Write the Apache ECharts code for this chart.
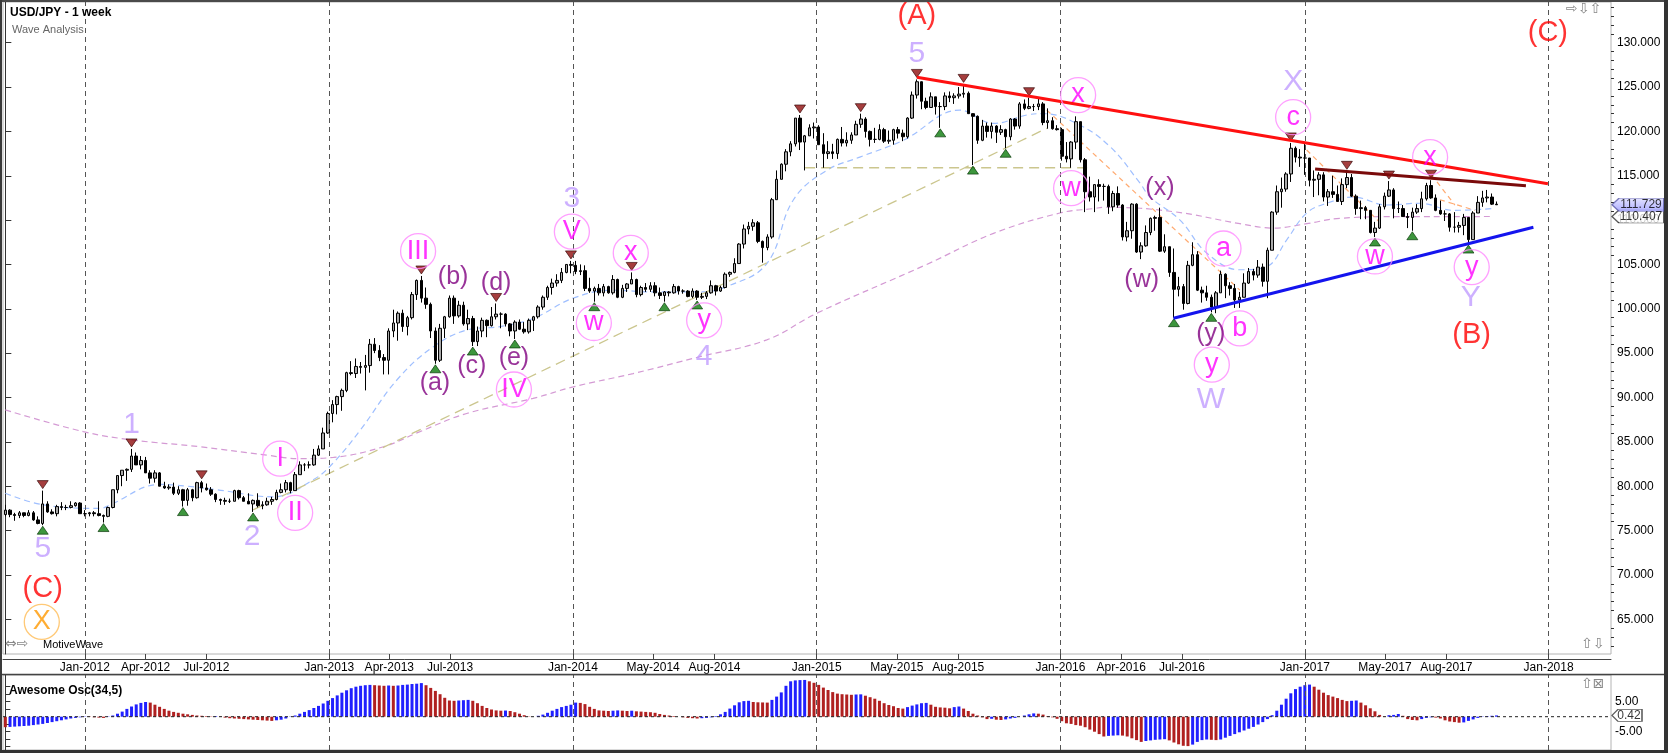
<!DOCTYPE html>
<html>
<head>
<meta charset="utf-8">
<title>USD/JPY - 1 week</title>
<script src="https://cdn.jsdelivr.net/npm/echarts@6.0.0/dist/echarts.min.js"></script>
<style>
html,body{margin:0;padding:0;background:#fff;overflow:hidden}
#chart{width:1668px;height:753px}
</style>
</head>
<body>
<div id="chart"></div>
<script>
// ================= DATA =================
const START_WEEK = '2011-09-04';   // first weekly bar
const AXIS_WEEKS = 344;            // weeks spanned by the time axis

// weekly candles: [open, close, low, high]
const candles2011 = [
[76.8,77.3,76.6,77.9],[77.3,76.8,76.5,77.4],[76.8,76.7,76.1,77.0],[76.7,77.0,76.4,77.2],
[77.0,76.7,76.5,77.0],[76.7,77.0,76.6,77.3],[77.0,76.2,76.1,77.2],[76.2,75.8,75.7,76.6],
[75.8,78.0,75.6,79.5],[78.0,77.1,77.0,78.3],[77.1,76.9,76.8,77.4],[76.9,77.7,76.6,77.9],
[77.7,77.6,77.3,78.2],[77.6,77.6,77.3,77.9],[77.6,77.8,77.5,78.3],[77.8,78.1,77.7,78.2],
[78.1,76.9,76.9,78.2]];
const candles2012 = [
[76.9,76.9,76.6,77.3],[76.9,77.0,76.6,77.1],[77.0,76.9,76.6,77.2],[76.9,76.7,76.6,78.3],
[76.7,76.6,75.9,76.8],[76.6,77.6,76.5,77.7],[77.6,79.6,77.5,79.6],[79.6,81.2,79.2,81.2],
[81.2,81.8,80.0,81.8],[81.8,81.9,80.6,82.0],[81.9,83.4,81.6,84.2],[83.4,82.4,82.4,83.8],
[82.4,82.9,81.9,83.4],[82.9,81.5,81.5,83.3],[81.5,80.9,80.3,81.8],[80.9,81.5,80.4,81.8],
[81.5,80.0,80.0,81.6],[80.0,79.8,79.7,80.5],[79.8,79.9,79.6,80.2],[79.9,79.2,79.0,80.4],
[79.2,79.6,79.0,80.0],[79.6,78.4,77.7,79.7],[78.4,79.6,77.8,79.8],[79.6,78.7,78.3,79.7],
[78.7,80.4,78.6,80.5],[80.4,79.8,79.3,80.6],[79.8,79.6,79.5,80.3],[79.6,79.1,78.9,79.9],
[79.1,78.5,78.2,79.2],[78.5,78.4,77.9,78.6],[78.4,78.3,77.9,78.7],[78.3,78.3,78.1,78.6],
[78.3,79.5,78.3,79.6],[79.5,78.7,78.5,79.6],[78.7,78.3,78.3,78.9],[78.3,78.0,78.0,79.2],
[78.0,78.4,77.1,78.5],[78.4,77.8,77.6,79.2],[77.8,77.9,77.4,78.3],[77.9,78.3,77.8,78.7],
[78.3,78.5,77.9,78.8],[78.5,79.3,78.4,79.6],[79.3,79.6,79.2,80.3],[79.6,80.4,79.3,80.7],
[80.4,79.5,79.2,80.5],[79.5,81.3,79.5,81.6],[81.3,82.4,81.3,82.8],[82.4,82.4,81.7,82.6],
[82.4,82.4,82.0,82.8],[82.4,83.5,82.3,84.2],[83.5,84.2,83.4,84.6],[84.2,86.0,84.2,86.6]];
const candles2013 = [
[86.0,88.2,85.9,88.4],[88.2,89.2,87.2,89.7],[89.2,90.1,88.1,90.2],[90.1,90.8,88.5,91.0],
[90.8,92.8,90.6,92.9],[92.8,92.7,92.5,94.1],[92.7,93.5,92.2,94.4],[93.5,93.4,92.7,94.0],
[93.4,93.6,90.8,94.8],[93.6,96.0,92.8,96.6],[96.0,95.3,95.0,96.7],[95.3,94.5,94.1,95.9],
[94.5,94.2,92.6,94.9],[94.2,97.5,92.6,97.8],[97.5,98.4,96.8,99.9],[98.4,99.5,96.4,99.7],
[99.5,98.0,97.4,99.9],[98.0,99.0,97.0,99.2],[99.0,101.6,98.8,101.9],[101.6,103.2,101.0,103.3],
[103.2,101.2,100.7,103.7],[101.2,100.5,100.0,102.4],[100.5,97.5,96.7,100.7],[97.5,94.2,93.8,97.9],
[94.2,97.8,94.0,98.3],[97.8,99.1,96.7,99.2],[99.1,101.2,99.0,101.5],[101.2,99.2,98.3,101.5],
[99.2,100.4,99.0,100.9],[100.4,98.3,98.1,100.8],[98.3,98.9,97.6,99.9],[98.9,96.3,95.8,99.2],
[96.3,97.5,95.8,98.0],[97.5,98.7,96.8,99.0],[98.7,98.1,96.8,98.8],[98.1,99.1,98.0,100.2],
[99.1,99.4,98.8,100.6],[99.4,99.4,97.8,99.6],[99.4,98.3,98.0,99.5],[98.3,97.5,96.9,98.4],
[97.5,98.5,96.6,98.7],[98.5,97.7,97.6,98.8],[97.7,97.4,97.2,98.5],[97.4,98.7,97.2,98.9],
[98.7,99.1,97.5,99.2],[99.1,100.2,98.9,100.4],[100.2,101.3,99.9,101.5],[101.3,102.4,101.0,102.6],
[102.4,102.9,101.6,103.4],[102.9,103.2,102.5,103.9],[103.2,104.1,102.9,104.6],[104.1,105.0,104.0,105.0]];
const candles2014 = [
[105.0,104.9,104.0,105.4],[104.9,104.2,103.9,105.4],[104.2,104.3,103.8,105.0],[104.3,102.3,102.0,104.9],
[102.3,102.0,101.8,103.5],[102.0,102.3,100.8,102.5],[102.3,101.8,101.5,102.8],[101.8,102.5,101.4,102.8],
[102.5,101.8,101.7,102.6],[101.8,103.3,101.6,103.8],[103.3,101.3,101.2,103.4],[101.3,102.3,101.2,102.7],
[102.3,102.8,101.9,102.9],[102.8,103.3,102.8,104.1],[103.3,101.6,101.3,103.4],[101.6,102.4,101.4,102.6],
[102.4,102.2,101.9,102.9],[102.2,102.6,101.9,103.0],[102.6,101.8,101.4,103.0],[101.8,101.5,101.1,102.4],
[101.5,101.9,100.8,102.0],[101.9,101.8,101.4,102.0],[101.8,102.5,101.7,102.8],[102.5,102.0,101.6,102.6],
[102.0,102.0,101.7,102.2],[102.0,101.4,101.3,102.1],[101.4,102.0,101.2,102.3],[102.0,101.3,101.0,102.1],
[101.3,101.4,101.1,101.8],[101.4,101.8,101.1,102.0],[101.8,102.6,101.7,103.2],[102.6,102.0,101.5,102.7],
[102.0,102.4,101.9,102.6],[102.4,103.9,102.3,104.1],[103.9,104.1,103.6,104.2],[104.1,105.1,104.0,105.7],
[105.1,107.3,105.1,107.4],[107.3,109.0,106.8,109.5],[109.0,109.3,108.4,109.8],[109.3,109.7,108.8,110.1],
[109.7,107.6,107.4,109.9],[107.6,106.9,105.2,107.7],[106.9,108.1,106.6,108.4],[108.1,112.3,107.9,112.5],
[112.3,114.6,112.3,115.6],[114.6,116.3,114.6,116.4],[116.3,117.7,115.5,118.0],[117.7,118.6,117.2,118.9],
[118.6,121.5,118.3,121.5],[121.5,118.8,117.9,121.85],[118.8,119.5,115.6,119.6],[119.5,120.4,119.5,120.8]];
const candles2015 = [
[120.4,120.5,119.2,121.0],[120.5,118.5,118.5,120.7],[118.5,117.5,115.9,119.8],[117.5,117.7,116.9,118.9],
[117.7,117.5,116.9,118.6],[117.5,119.1,116.9,119.2],[119.1,118.7,118.3,120.5],[118.7,119.0,118.3,119.9],
[119.0,119.6,118.6,119.9],[119.6,120.8,119.6,121.2],[120.8,121.4,120.4,122.0],[121.4,120.0,119.3,121.6],
[120.0,119.1,118.3,120.1],[119.1,119.1,118.7,120.4],[119.1,120.2,119.0,120.8],[120.2,118.9,118.7,120.4],
[118.9,119.0,118.6,120.1],[119.0,120.2,118.5,120.3],[120.2,119.8,119.2,120.5],[119.8,119.4,118.9,120.2],
[119.4,121.5,119.2,121.6],[121.5,124.1,121.4,124.5],[124.1,125.6,123.7,125.86],[125.6,123.4,122.5,125.0],
[123.4,122.7,122.5,123.8],[122.7,123.9,122.7,124.4],[123.9,122.8,121.9,123.9],[122.8,122.8,120.4,123.3],
[122.8,124.0,122.4,124.4],[124.0,123.8,123.3,124.5],[123.8,124.0,123.1,124.3],[124.0,124.2,123.7,125.0],
[124.2,124.3,123.8,125.3],[124.3,122.0,122.0,124.5],[122.0,121.7,116.2,121.8],[121.7,119.0,118.6,121.8],
[119.0,120.6,118.9,121.3],[120.6,120.0,119.3,121.0],[120.0,120.6,119.2,121.0],[120.6,119.9,118.7,120.7],
[119.9,120.2,119.6,120.7],[120.2,119.4,118.1,120.3],[119.4,121.4,119.0,121.5],[121.4,120.6,120.2,121.5],
[120.6,123.1,120.3,123.3],[123.1,122.6,122.4,123.6],[122.6,122.8,122.5,123.8],[122.8,122.8,122.3,123.1],
[122.8,123.1,122.4,123.7],[123.1,121.0,120.7,123.3],[121.0,121.2,120.3,122.6],[121.2,120.3,120.2,121.6]];
const candles2016 = [
[120.3,120.2,120.1,120.7],[120.2,117.2,116.7,120.4],[117.2,116.9,116.5,118.8],[116.9,118.8,115.9,118.9],
[118.8,121.1,118.0,121.7],[121.1,116.8,116.5,121.1],[116.8,113.2,110.9,117.0],[113.2,112.6,112.1,114.9],
[112.6,114.0,110.9,114.0],[114.0,113.8,112.1,114.6],[113.8,113.8,112.2,114.1],[113.8,111.5,110.7,114.0],
[111.5,113.0,111.0,113.3],[113.0,111.7,111.4,113.8],[111.7,108.1,107.7,111.8],[108.1,108.8,107.6,109.8],
[108.8,111.8,107.9,111.9],[111.8,106.4,106.3,111.9],[106.4,107.1,105.6,107.5],[107.1,108.6,107.0,109.4],
[108.6,110.2,108.3,110.3],[110.2,110.3,108.8,110.5],[110.3,106.5,106.4,111.4],[106.5,107.0,106.3,108.4],
[107.0,104.1,103.6,107.0],[104.1,102.2,99.0,106.8],[102.2,102.5,101.4,103.6],[102.5,100.6,99.9,102.8],
[100.6,104.9,100.5,105.4],[104.9,106.1,104.8,107.5],[106.1,102.1,102.0,106.5],[102.1,101.8,100.7,102.5],
[101.8,101.3,100.9,102.6],[101.3,100.2,99.6,101.6],[100.2,101.8,99.5,102.0],[101.8,103.9,101.8,104.3],
[103.9,102.6,101.2,104.0],[102.6,102.3,101.5,103.0],[102.3,101.0,100.1,102.8],[101.0,101.3,100.1,101.9],
[101.3,102.9,101.3,104.0],[102.9,104.2,102.8,104.6],[104.2,103.8,103.2,104.5],[103.8,104.7,103.5,105.5],
[104.7,103.1,102.5,105.1],[103.1,106.6,101.2,106.9],[106.6,110.9,106.6,111.0],[110.9,113.2,110.6,113.9],
[113.2,113.5,111.4,114.8],[113.5,115.2,113.2,115.4],[115.2,118.1,114.3,118.7],[118.1,117.1,116.5,118.3]];
const candles2017 = [
[117.1,117.0,116.0,118.0],[117.0,117.0,115.1,118.6],[117.0,114.5,113.8,116.9],[114.5,114.6,112.6,115.6],
[114.6,115.1,112.8,115.4],[115.1,112.6,112.1,115.4],[112.6,113.2,111.6,113.5],[113.2,112.9,112.5,115.0],
[112.9,112.1,112.1,113.9],[112.1,114.0,111.7,114.7],[114.0,114.8,113.6,115.5],[114.8,112.7,112.6,115.2],
[112.7,111.3,110.6,112.9],[111.3,111.4,110.1,112.2],[111.4,111.1,110.1,111.6],[111.1,108.6,108.5,111.1],
[108.6,109.1,108.1,109.8],[109.1,111.5,109.0,111.8],[111.5,112.7,111.2,113.1],[112.7,113.4,112.6,114.4],
[113.4,111.3,110.2,113.6],[111.3,111.3,110.8,112.1],[111.3,110.4,110.4,111.7],[110.4,110.3,109.1,110.8],
[110.3,110.9,108.8,111.4],[110.9,111.3,110.7,111.8],[111.3,112.4,110.9,113.2],[112.4,113.9,112.2,114.2],
[113.9,112.5,112.4,114.5],[112.5,111.1,111.0,112.9],[111.1,110.7,110.6,112.2],[110.7,110.7,109.9,111.1],
[110.7,109.2,108.7,110.8],[109.2,109.2,108.6,110.9],[109.2,109.4,108.6,109.8],[109.4,110.3,108.3,110.7],
[110.3,107.8,107.3,110.3],[107.8,110.8,107.8,111.0],[110.8,112.0,110.8,112.7],[112.0,112.5,111.5,113.3],
[112.5,112.6,112.0,113.4],[112.6,111.8,111.7,113.0],[111.8,111.73,111.7,112.1]];

// swing markers (bar numbers)
const swingHighs = [8,27,42,89,105,121,134,170,183,195,205,219,275,287,296,305];
const swingLows  = [8,21,38,53,92,100,109,126,141,148,200,207,214,250,258,293,301,313];

// moving averages: [week, value]
const maFast = [[0,79.2],[8.1,77.9],[20.3,77.5],[22.4,77.9],[33.1,80.2],[38.9,80.0],[45.3,79.6],[57.3,78.8],
[65.8,80.7],[70.1,82.6],[75.9,86.3],[83.8,92.0],[91.5,95.7],[98.7,97.6],[105.8,98.0],[112.9,98.9],
[121.5,101.2],[130.1,102.1],[138.6,101.9],[148.6,101.9],[154.3,102.5],[162.9,105.1],[168.6,112.3],
[175.7,115.6],[182.8,117.1],[192.1,119.0],[204.2,122.4],[211.4,120.9],[218.5,121.85],[222.0,122.0],
[229.2,120.9],[236.3,118.3],[242.7,114.2],[244.9,112.6],[251.3,110.0],[257.0,106.3],[264.1,104.4],
[269.8,104.75],[274.1,107.75],[278.4,110.8],[282.7,111.9],[288.4,112.6],[295.5,111.7],[302.6,111.9],
[309.8,111.1],[318.3,111.3]];
const maSlow = [[0,88.6],[16.7,86.15],[27.4,85.2],[41.6,84.45],[55.9,83.5],[63.0,83.1],[70.2,83.25],
[80.9,84.45],[88.7,86.15],[98.7,88.2],[112.9,89.9],[121.5,91.2],[134.3,92.7],[148.6,94.6],[162.9,96.5],
[173.6,99.5],[197.1,105.0],[211.4,108.5],[225.6,110.8],[232.8,111.3],[235.6,111.45],[249.9,110.95],
[264.1,109.6],[271.3,109.1],[278.4,109.6],[285.5,110.2],[299.8,110.4],[311.2,110.4],[318.3,110.407]];

// trend lines [[week, price],[week, price]]
const resistanceLine = [[195.0,126.1],[330.0,114.1]];
const upperTriangle  = [[280.2,115.76],[325.3,113.88]];
const supportLine    = [[249.9,98.93],[326.9,109.19]];
const oliveDiagonal  = [[53.0,77.32],[222.8,120.35]];
const oliveFlat      = [[171.1,115.9],[231.7,115.9]];
const orangeSegs = [
 [[222.8,122.4],[264.1,102.1]],
 [[278.4,117.9],[294.5,109.5]],
 [[305.1,115.1],[310.1,111.7]],
 [[306.9,112.3],[314.4,111.1]]];

// wave labels [week, price, text]
const lavenderLabels = [[8.0,73.0,'5'],[27.0,86.9,'1'],[52.8,74.3,'2'],[121.2,112.4,'3'],[149.5,94.6,'4'],
 [195.0,128.8,'5'],[257.9,89.7,'W'],[275.5,125.6,'X'],[313.5,101.2,'Y']];
const redLabels = [[8.0,68.4,'(C)'],[195.0,133.0,'(A)'],[313.7,97.05,'(B)'],[330.0,131.1,'(C)']];
const purpleLabels = [[91.9,91.6,'(a)'],[95.8,103.6,'(b)'],[99.8,93.5,'(c)'],[105.0,102.9,'(d)'],
 [108.8,94.4,'(e)'],[243.1,103.2,'(w)'],[247.0,113.6,'(x)'],[257.9,97.2,'(y)']];
const circledLabels = [[58.8,83.1,'I'],[62.0,77.0,'II'],[88.3,106.5,'III'],[108.8,90.9,'IV'],
 [121.2,108.7,'V'],[125.9,98.4,'w'],[133.8,106.3,'x'],[149.5,98.7,'y'],[229.5,124.1,'x'],
 [228.0,113.6,'w'],[260.6,106.8,'a'],[264.1,97.8,'b'],[258.1,93.7,'y'],[275.5,121.6,'c'],
 [293.0,105.9,'w'],[304.8,117.1,'x'],[313.7,104.7,'y']];
const orangeCircled = [[7.8,64.7,'X']];

// Awesome Oscillator values (per bar)
const aoPart1 = [-3.5,-3.4,-3.3,-3.2,-3.1,-3.0,-2.8,-2.6,-2.4,-2.1,-1.8,-1.5,-1.2,-0.9,-0.6,-0.4,-0.2,
 0.1,-0.1,-0.2,-0.3,-0.4,-0.1,
 0.4,1.0,1.7,2.6,3.4,4.1,4.6,4.9,
 4.7,4.0,3.3,2.6,2.0,1.6,1.3,1.0,0.8,0.6,0.4,0.3,0.2,
 0.1,0.2,0.1,
 -0.3,-0.5,-0.6,-0.7,-0.8,-0.9,-1.0,-1.1,-1.2,-1.3,-1.4,-1.2,-1.0,-0.6,
 -0.1,0.4,1.0,1.6,2.2,2.9,3.6,4.4,5.3,6.2,7.1,8.0,8.8,9.5,10.0,10.3,10.5,10.6,
 10.5,10.4,10.3,10.4,10.3,10.4,10.6,10.7,10.9,11.0,11.2,
 10.5,9.6,8.6,7.5,6.3,5.4,5.3,5.4,5.5,5.6,5.3,4.5,3.6,2.9,2.4,2.1,2.0,2.05,1.9,1.5,1.0,0.5,0.1,0.0];
const aoPart2 = [0.3,0.7,1.3,2.0,2.6,3.2,3.6,4.0,4.7,4.6,
 4.2,3.3,2.6,2.1,2.0,1.9,2.0,2.1,2.0,1.9,
 2.0,1.8,1.7,1.6,1.5,1.3,0.9,0.6,0.4,0.2,
 0.0,-0.2,-0.4,-0.5,-0.6,-0.5,-0.4,-0.2,0.2,0.8,
 1.6,2.7,3.8,4.8,5.2,5.3,
 4.9,4.8,4.75,4.7,5.6,6.7,8.1,10.3,11.8,12.1,
 12.2,12.25,11.8,11.3,10.6,9.7,8.9,8.2,7.7,7.5,
 7.4,7.3,7.4,7.45,7.0,6.5,6.0,5.3,4.5,3.9,
 3.5,2.9,2.7,3.2,3.7,4.1,4.5,4.6,4.0,3.3,
 3.1,3.0,2.8,3.2,3.4,2.7,1.9,1.0,0.4,-0.2,
 -0.8,-0.7,-1.0,-1.1,-0.9,-0.6,-0.4,0.0,0.4,0.8];
const aoPart3 = [1.1,1.0,0.7,0.2,-0.2,-0.7,-1.5,-2.2,-2.4,-2.8,
 -3.0,-3.5,-4.3,-5.0,-5.8,-6.6,-6.4,-6.3,-6.2,-6.3,
 -6.6,-7.2,-7.8,-8.4,-8.1,-7.9,-7.7,-7.6,-7.5,-7.9,
 -8.6,-9.2,-9.7,-9.8,-9.3,-8.4,-7.8,-7.6,-7.7,-7.8,
 -7.6,-7.0,-6.4,-5.8,-5.2,-4.6,-4.0,-3.4,-2.6,-1.8,
 -0.8,0.5,2.0,4.0,6.0,7.8,9.2,10.0,10.5,10.7,
 10.0,9.0,8.0,7.2,6.7,6.2,5.6,5.2,5.3,5.4,
 4.7,3.8,2.8,1.8,0.6,0.1,0.5,0.6,0.9,0.3,
 -0.8,-1.1,-1.2,-0.8,-0.4,-0.2,-0.3,-0.6,-1.2,-1.6,
 -1.8,-2.0,-1.9,-1.4,-0.9,-0.4,-0.1,0.2,0.3,0.42];

// axis texts
const tickDates = ['2012-01-01','2012-04-01','2012-07-01','2013-01-01','2013-04-01','2013-07-01',
 '2014-01-01','2014-05-01','2014-08-01','2015-01-01','2015-05-01','2015-08-01','2016-01-01',
 '2016-04-01','2016-07-01','2017-01-01','2017-05-01','2017-08-01','2018-01-01'];
const tickLabels = ['Jan-2012','Apr-2012','Jul-2012','Jan-2013','Apr-2013','Jul-2013','Jan-2014',
 'May-2014','Aug-2014','Jan-2015','May-2015','Aug-2015','Jan-2016','Apr-2016','Jul-2016',
 'Jan-2017','May-2017','Aug-2017','Jan-2018'];
const yearLineDates = ['2012-01-01','2013-01-01','2014-01-01','2015-01-01','2016-01-01','2017-01-01','2018-01-01'];
const priceTicks = [65,70,75,80,85,90,95,100,105,110,115,120,125,130];
const oscLabelTicks = [5,-5];
const oscTicks = [-10,-7.5,-5,-2.5,2.5,5,7.5,10];
const lastPrice = 111.729, slowMaLast = 110.407, aoLast = 0.42;

// ================= BUILD =================
const DAY = 86400000;
const t0 = Date.parse(START_WEEK);
const weekPos = s => (Date.parse(s) - t0) / (7 * DAY);
const cats = [];
for (let k = 0; k < AXIS_WEEKS; k++) cats.push(new Date(t0 + k * 7 * DAY).toISOString().slice(0, 10));
const candles = [].concat(candles2011, candles2012, candles2013, candles2014, candles2015, candles2016, candles2017);
const ao = [].concat(aoPart1, aoPart2, aoPart3);
const tickPos = tickDates.map(weekPos);
const minorPriceTicks = [];
for (let v = 62; v <= 134; v++) if (v % 5 !== 0) minorPriceTicks.push(v);

const FONT = '"Liberation Sans", Arial, sans-serif';
const XMAX = AXIS_WEEKS - 0.5;
const RED_AO = '#b02020', BLUE_AO = '#2020ff';

function labelSeries(list, color, size, extra) {
  return Object.assign({
    type: 'scatter', xAxisIndex: 1, yAxisIndex: 0, z: 8, silent: true, clip: false,
    symbolSize: 0,
    data: list.map(a => ({ value: [a[0], a[1]], name: a[2] })),
    label: { show: true, position: 'inside', formatter: p => p.name, color: color,
             fontSize: size, fontFamily: FONT }
  }, extra || {});
}
function segSeries(pts, color, width, type, z) {
  return { type: 'line', xAxisIndex: 1, yAxisIndex: 0, data: pts, showSymbol: false, silent: true,
           z: z || 5, lineStyle: { color: color, width: width, type: type } };
}

const series = [];
// slow MA (+ yearly dashed lines)
series.push({
  type: 'line', xAxisIndex: 1, yAxisIndex: 0, data: maSlow, smooth: 0.4, showSymbol: false, silent: true, z: 1,
  lineStyle: { color: '#d49ad4', width: 1.2, type: [6, 4] },
  markLine: { silent: true, symbol: 'none', animation: false, label: { show: false },
    lineStyle: { color: '#555', type: [5, 4], width: 1 },
    data: yearLineDates.map(d => ({ xAxis: weekPos(d) })) }
});
series.push({ type: 'line', xAxisIndex: 1, yAxisIndex: 0, data: maFast, smooth: 0.4, showSymbol: false,
  silent: true, z: 1, lineStyle: { color: '#9fbfff', width: 1.2, type: [6, 4] } });
series.push(segSeries(oliveDiagonal, '#cbc68e', 1.3, [10, 6], 1));
series.push(segSeries(oliveFlat, '#cbc68e', 1.3, [10, 6], 1));
orangeSegs.forEach(s => series.push(segSeries(s, '#ffaa70', 1.2, [5, 4], 2)));
// candles
series.push({
  type: 'candlestick', xAxisIndex: 0, yAxisIndex: 0, data: candles, barWidth: 3, z: 3, silent: true,
  itemStyle: { color: '#a9a9a9', color0: '#000000', borderColor: '#000000', borderColor0: '#000000', borderWidth: 1 }
});
// swing markers
series.push({ type: 'scatter', xAxisIndex: 0, yAxisIndex: 0, z: 4, silent: true,
  symbol: 'path://M0,0L10,0L5,8Z', symbolSize: [11, 8], symbolOffset: [0, -6],
  itemStyle: { color: '#8e0e0e', borderColor: '#300000', borderWidth: 0.8 },
  data: swingHighs.map(i => [i, candles[i][3]]) });
series.push({ type: 'scatter', xAxisIndex: 0, yAxisIndex: 0, z: 4, silent: true,
  symbol: 'path://M5,0L10,8L0,8Z', symbolSize: [11, 8], symbolOffset: [0, 5],
  itemStyle: { color: '#0c7c0c', borderColor: '#003000', borderWidth: 0.8 },
  data: swingLows.map(i => [i, candles[i][2]]) });
// trend lines
series.push(segSeries(resistanceLine, '#ff1010', 3, 'solid', 6));
series.push(segSeries(upperTriangle, '#7a0a0a', 3, 'solid', 6));
series.push(segSeries(supportLine, '#1414ee', 3, 'solid', 6));
// labels
series.push(labelSeries(lavenderLabels, '#c09cff', 30));
series.push(labelSeries(redLabels, '#ff0000', 29));
series.push(labelSeries(purpleLabels, '#800080', 25));
series.push(labelSeries(circledLabels, '#ff00ff', 27, {
  symbol: 'circle', symbolSize: 35,
  itemStyle: { color: 'rgba(255,255,255,0)', borderColor: '#ff88ff', borderWidth: 1.3 } }));
series.push(labelSeries(orangeCircled, '#ff9900', 27, {
  symbol: 'circle', symbolSize: 35,
  itemStyle: { color: 'rgba(255,255,255,0)', borderColor: '#ffbb55', borderWidth: 1.3 } }));
// price boxes on the axis
const boxPath = 'path://M0,7L7,0L52,0L52,14L7,14Z';
series.push({ type: 'scatter', xAxisIndex: 1, yAxisIndex: 0, z: 9, clip: false, silent: true,
  symbol: boxPath, symbolSize: [52, 13], symbolOffset: [27, 0],
  data: [
    { value: [XMAX, slowMaLast], itemStyle: { color: '#ffffff', borderColor: '#333', borderWidth: 1 } },
    { value: [XMAX, lastPrice], itemStyle: { color: new echarts.graphic.LinearGradient(0,0,0,1,[{offset:0,color:'#dcdcff'},{offset:1,color:'#9a9aff'}]), borderColor: '#5a5aa8', borderWidth: 1 } }
  ],
  label: { show: true, position: 'inside', offset: [3, 0], color: '#000', fontSize: 12, fontFamily: FONT,
    formatter: p => p.value[1].toFixed(3) } });

// oscillator
series.push({ type: 'bar', xAxisIndex: 2, yAxisIndex: 2, barWidth: 3, silent: true, z: 3,
  data: ao.map((v, k) => ({ value: v, itemStyle: { color: (k === 0 || v < ao[k - 1]) ? RED_AO : BLUE_AO } })) });
series.push({ type: 'line', xAxisIndex: 3, yAxisIndex: 2, data: [[-0.5, 0], [XMAX, 0]], showSymbol: false, silent: true, z: 4,
  lineStyle: { color: '#222', width: 1, type: [3, 3] },
  markLine: { silent: true, symbol: 'none', animation: false, label: { show: false },
    lineStyle: { color: '#555', type: [5, 4], width: 1 },
    data: yearLineDates.map(d => ({ xAxis: weekPos(d) })) } });
series.push({ type: 'scatter', xAxisIndex: 3, yAxisIndex: 2, z: 9, clip: false, silent: true,
  symbol: 'path://M0,6L6,0L30,0L30,12L6,12Z', symbolSize: [30, 12], symbolOffset: [16, 0],
  itemStyle: { color: '#fff', borderColor: '#333', borderWidth: 1 },
  data: [[XMAX, aoLast]],
  label: { show: true, position: 'inside', offset: [2, 0], color: '#000', fontSize: 12, fontFamily: FONT,
    formatter: p => p.value[1].toFixed(2) } });

const option = {
  animation: false,
  backgroundColor: '#ffffff',
  grid: [
    { left: 3, top: 2, width: 1608, height: 652, show: true, borderColor: '#b4b4b4', borderWidth: 1, backgroundColor: '#fff' },
    { left: 3, top: 675, width: 1608, height: 75, show: true, borderColor: '#b4b4b4', borderWidth: 1, backgroundColor: '#fff' }
  ],
  xAxis: [
    { type: 'category', gridIndex: 0, data: cats, show: false },
    { type: 'value', gridIndex: 0, min: -0.5, max: XMAX, position: 'bottom', offset: 5,
      axisLine: { show: true, lineStyle: { color: '#444' } },
      axisTick: { show: true, inside: true, length: 5, customValues: tickPos, lineStyle: { color: '#444' } },
      axisLabel: { show: true, customValues: tickPos, margin: 3, fontSize: 12, color: '#000', fontFamily: FONT,
        formatter: v => { const k = tickPos.findIndex(p => Math.abs(p - v) < 0.01); return k >= 0 ? tickLabels[k] : ''; } },
      splitLine: { show: false } },
    { type: 'category', gridIndex: 1, data: cats, show: false },
    { type: 'value', gridIndex: 1, min: -0.5, max: XMAX, show: false }
  ],
  yAxis: [
    { type: 'value', gridIndex: 0, position: 'right', min: 61.08, max: 134.59,
      axisLine: { show: true, lineStyle: { color: '#333' } },
      axisTick: { show: true, length: 6, customValues: priceTicks, lineStyle: { color: '#333' } },
      axisLabel: { show: true, customValues: priceTicks, margin: 6, fontSize: 12, color: '#000', fontFamily: FONT,
        formatter: v => v.toFixed(3) },
      splitLine: { show: false } },
    { type: 'value', gridIndex: 0, position: 'right', min: 61.08, max: 134.59,
      axisLine: { show: false },
      axisTick: { show: true, length: 3, customValues: minorPriceTicks, lineStyle: { color: '#333' } },
      axisLabel: { show: false }, splitLine: { show: false } },
    { type: 'value', gridIndex: 1, position: 'right', min: -11.1, max: 13.9,
      axisLine: { show: true, lineStyle: { color: '#333' } },
      axisTick: { show: true, length: 5, customValues: oscTicks, lineStyle: { color: '#333' } },
      axisLabel: { show: true, customValues: oscLabelTicks, margin: 4, fontSize: 12, color: '#000', fontFamily: FONT,
        formatter: v => v.toFixed(2) },
      splitLine: { show: false } }
  ],
  graphic: [
    { type: 'rect', silent: true, z: 100, shape: { x: 0, y: 0, width: 1668, height: 2 }, style: { fill: '#4a4a4a' } },
    { type: 'rect', silent: true, z: 100, shape: { x: 0, y: 0, width: 2, height: 753 }, style: { fill: '#3a3a3a' } },
    { type: 'rect', silent: true, z: 100, shape: { x: 0, y: 750, width: 1668, height: 3 }, style: { fill: '#333' } },
    { type: 'rect', silent: true, z: 100, shape: { x: 1664, y: 0, width: 4, height: 753 }, style: { fill: '#333' } },
    { type: 'line', silent: true, z: 100, shape: { x1: 2, y1: 674.5, x2: 1664, y2: 674.5 }, style: { stroke: '#444', lineWidth: 1.5 } },
    { type: 'text', silent: true, z: 100, x: 10, y: 7, style: { text: 'USD/JPY - 1 week', font: 'bold 12px ' + FONT, fill: '#000', verticalAlign: 'top' } },
    { type: 'text', silent: true, z: 100, x: 12, y: 24, style: { text: 'Wave Analysis', font: '11px ' + FONT, fill: '#666', verticalAlign: 'top' } },
    { type: 'text', silent: true, z: 100, x: 9, y: 685, style: { text: 'Awesome Osc(34,5)', font: 'bold 12px ' + FONT, fill: '#000', verticalAlign: 'top' } },
    { type: 'text', silent: true, z: 100, x: 5, y: 637, style: { text: '\u21D4\u21E8', font: '14px "DejaVu Sans"', fill: '#888', verticalAlign: 'top' } },
    { type: 'text', silent: true, z: 100, x: 43, y: 639, style: { text: 'MotiveWave', font: '11px ' + FONT, fill: '#000', verticalAlign: 'top' } },
    { type: 'text', silent: true, z: 100, x: 1566, y: 2, style: { text: '\u21E8\u21E9\u21E7', font: '14px "DejaVu Sans"', fill: '#888', verticalAlign: 'top' } },
    { type: 'text', silent: true, z: 100, x: 1581, y: 637, style: { text: '\u21E7\u21E9', font: '14px "DejaVu Sans"', fill: '#888', verticalAlign: 'top' } },
    { type: 'text', silent: true, z: 100, x: 1581, y: 677, style: { text: '\u21E7\u22A0', font: '14px "DejaVu Sans"', fill: '#888', verticalAlign: 'top' } }
  ],
  series: series
};

const chart = echarts.init(document.getElementById('chart'), null, { renderer: 'canvas', width: 1668, height: 753 });
chart.setOption(option);
</script>
</body>
</html>
